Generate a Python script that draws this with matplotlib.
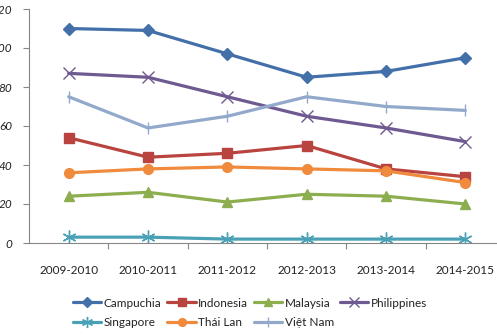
import matplotlib
matplotlib.use("Agg")
import matplotlib.pyplot as plt
import numpy as np

years = ["2009-2010", "2010-2011", "2011-2012", "2012-2013", "2013-2014", "2014-2015"]

campuchia = [110, 109, 97, 85, 88, 95]
indonesia = [54, 44, 46, 50, 38, 34]
malaysia = [24, 26, 21, 25, 24, 20]
philippines = [87, 85, 75, 65, 59, 52]
singapore = [3, 3, 2, 2, 2, 2]
thai_lan = [36, 38, 39, 38, 37, 31]
viet_nam = [75, 59, 65, 75, 70, 68]

plt.rcParams['font.family'] = ['Lato', 'DejaVu Sans']

fig = plt.figure(figsize=(4.97, 3.36), dpi=100)
# axes run a bit past the right edge, like the cropped original
ax = fig.add_axes([29/497, 93/336, 476/497, 234/336])

x = np.arange(len(years))
series = [
    ("Campuchia", campuchia, "#4470AA", dict(marker="D", ms=6)),
    ("Indonesia", indonesia, "#B9443F", dict(marker="s", ms=7)),
    ("Malaysia", malaysia, "#8DAE4F", dict(marker="^", ms=7)),
    ("Philippines", philippines, "#6E5A90", dict(marker="x", ms=9, mew=1.0)),
    ("Singapore", singapore, "#4AA1B5", dict(marker=(6, 2, 0), ms=10, mew=1.0)),
    ("Thái Lan", thai_lan, "#F08A3C", dict(marker="o", ms=7)),
    ("Việt Nam", viet_nam, "#92A9CB", dict(marker="|", ms=9, mew=1.0)),
]

lines = {}
for name, vals, col, mk in series:
    ln, = ax.plot(x, vals, color=col, lw=2.3, label=name, solid_capstyle="round", **mk)
    lines[name] = ln

ax.set_xlim(-0.5, len(years) - 0.5)
ax.set_ylim(0, 120)
ax.set_yticks(range(0, 121, 20))
ax.set_yticklabels([str(v) for v in range(0, 121, 20)], fontstyle="italic", fontsize=8.5, color="#222222")
ax.set_xticks(x)
ax.set_xticklabels(years, fontsize=8.5, color="#222222")
ax.set_xticks(np.arange(0.5, len(years) - 0.5, 1), minor=True)
ax.tick_params(axis="x", which="major", length=0, pad=16)
ax.tick_params(axis="x", which="minor", length=4, color="#868686", width=0.8)
ax.tick_params(axis="y", length=4, color="#868686", width=0.8, pad=8)

for side in ["top", "right"]:
    ax.spines[side].set_visible(False)
for side in ["left", "bottom"]:
    ax.spines[side].set_color("#868686")
    ax.spines[side].set_linewidth(0.8)

order = ["Campuchia", "Singapore", "Indonesia", "Thái Lan", "Malaysia", "Việt Nam", "Philippines"]
leg = fig.legend([lines[n] for n in order], order, ncol=4, loc="center",
                 bbox_to_anchor=(250/497, 1 - 313/336), frameon=False,
                 fontsize=8.5, handlelength=2.4, handletextpad=0.2,
                 columnspacing=0.5, labelspacing=0.75, markerscale=0.8)
for t in leg.get_texts():
    t.set_color("#222222")

fig.savefig("out.png", dpi=100)
